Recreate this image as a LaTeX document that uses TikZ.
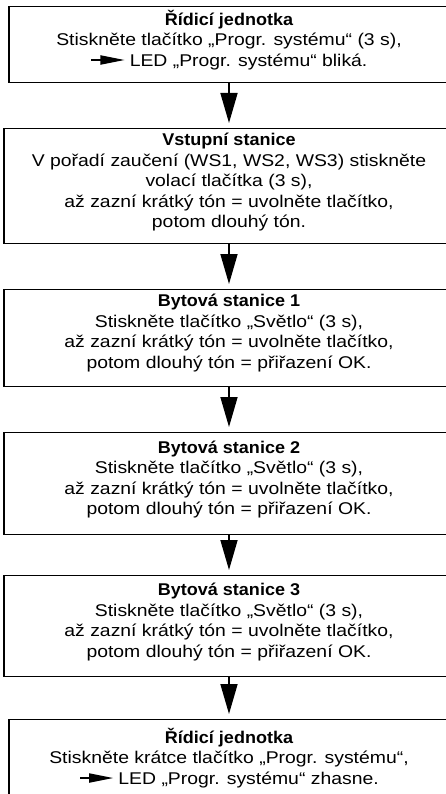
\documentclass[tikz,border=0pt]{standalone}
\usepackage{fontspec}
\setmainfont{Liberation Sans}[FakeStretch=1.14]
\newfontfamily\hdfont{Liberation Sans}[FakeStretch=1.06]
\usetikzlibrary{arrows.meta}
\newcommand\ledarr{\tikz[baseline=-6bp,x=1bp,y=1bp]{\draw[line width=1.6bp] (0,0) -- (12,0); \fill (9,4.8) -- (33,0) -- (9,-4.8) -- cycle;}}
\newcommand\hd[1]{{\hdfont\bfseries #1}}
\tikzset{
  stepbox/.style={draw, line width=1.3bp, rectangle, anchor=north, inner sep=0pt},
  txt/.style={align=center, inner sep=0pt, font=\fontsize{17bp}{20.5bp}\selectfont},
  wide/.style={minimum width=450bp},
  narrow/.style={minimum width=440bp},
  flowarr/.style={line width=1.6bp, -{Triangle[width=17bp,length=30bp]}, shorten >=5bp}
}
\begin{document}
\begin{tikzpicture}[x=1bp,y=1bp]
\useasboundingbox (0,0) rectangle (446,-794);
\clip (0,0) rectangle (446,-794);
% boxes
\node[stepbox, narrow, minimum height=76bp]  (b1) at (229,-6)   {};
\node[stepbox, wide,   minimum height=115bp] (b2) at (229,-128) {};
\node[stepbox, wide,   minimum height=97bp]  (b3) at (229,-289) {};
\node[stepbox, wide,   minimum height=102bp] (b4) at (229,-432) {};
\node[stepbox, wide,   minimum height=101bp] (b5) at (229,-575) {};
\node[stepbox, narrow, minimum height=78bp]  (b6) at (229,-719) {};
% texts
\node[txt] (t1) at ([yshift=5bp]b1.center)
  {\hd{Řídicí jednotka}\\
   Stiskněte tlačítko „Progr. systému“ (3 s),\\
   \ledarr\ LED „Progr. systému“ bliká.};
\node[txt] (t2) at ([yshift=4bp]b2.center)
  {\hd{Vstupní stanice}\\
   V pořadí zaučení (WS1, WS2, WS3) stiskněte\\
   volací tlačítka (3 s),\\
   až zazní krátký tón = uvolněte tlačítko,\\
   potom dlouhý tón.};
\node[txt] (t3) at ([yshift=5bp]b3.center)
  {\hd{Bytová stanice 1}\\
   Stiskněte tlačítko „Světlo“ (3 s),\\
   až zazní krátký tón = uvolněte tlačítko,\\
   potom dlouhý tón = přiřazení OK.};
\node[txt] (t4) at ([yshift=4bp]b4.center)
  {\hd{Bytová stanice 2}\\
   Stiskněte tlačítko „Světlo“ (3 s),\\
   až zazní krátký tón = uvolněte tlačítko,\\
   potom dlouhý tón = přiřazení OK.};
\node[txt] (t5) at ([yshift=4bp]b5.center)
  {\hd{Bytová stanice 3}\\
   Stiskněte tlačítko „Světlo“ (3 s),\\
   až zazní krátký tón = uvolněte tlačítko,\\
   potom dlouhý tón = přiřazení OK.};
\node[txt] (t6) at ([yshift=1bp]b6.center)
  {\hd{Řídicí jednotka}\\
   Stiskněte krátce tlačítko „Progr. systému“,\\
   \ledarr\ LED „Progr. systému“ zhasne.};
% connectors
\draw[flowarr] (b1.south) -- (b2.north);
\draw[flowarr] (b2.south) -- (b3.north);
\draw[flowarr] (b3.south) -- (b4.north);
\draw[flowarr] (b4.south) -- (b5.north);
\draw[flowarr] (b5.south) -- (b6.north);
\end{tikzpicture}
\end{document}
